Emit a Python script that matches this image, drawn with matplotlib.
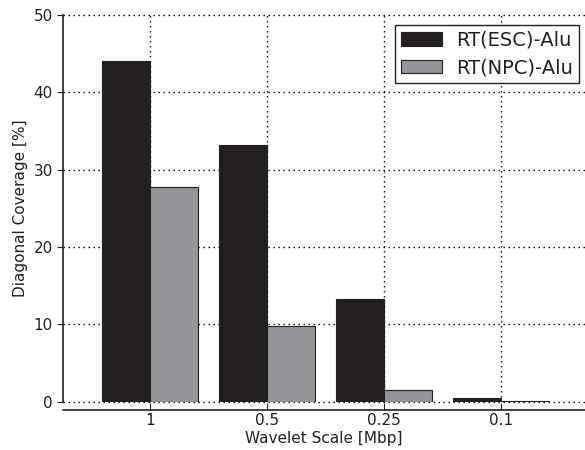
import numpy as np
import matplotlib.pyplot as plt

# Diagonal coverage per wavelet scale
scales = ["1", "0.5", "0.25", "0.1"]
esc_alu = [44.0, 33.2, 13.3, 0.55]
npc_alu = [27.7, 9.8, 1.5, 0.15]

ink = "#231f20"

plt.rcParams["font.family"] = "DejaVu Sans"
plt.rcParams["text.color"] = ink
plt.rcParams["axes.labelcolor"] = ink
plt.rcParams["xtick.color"] = ink
plt.rcParams["ytick.color"] = ink

fig, ax = plt.subplots(figsize=(5.85, 4.5), dpi=100)
fig.subplots_adjust(left=0.108, right=1.0, top=0.967, bottom=0.107)

x = np.arange(len(scales))
width = 0.41
ax.bar(x - width / 2, esc_alu, width, color=ink, edgecolor=ink, linewidth=0.8,
       label="RT(ESC)-Alu", zorder=3)
ax.bar(x + width / 2, npc_alu, width, color="#939598", edgecolor=ink, linewidth=0.8,
       label="RT(NPC)-Alu", zorder=3)

ax.set_xticks(x)
ax.set_xticklabels(scales)
ax.set_yticks([0, 10, 20, 30, 40, 50])
ax.set_xlim(-0.74, 3.72)
ax.set_ylim(0, 50)

ax.grid(True, linestyle=(0, (1, 2.6)), color="black", linewidth=1.0, zorder=0)
for gl in ax.get_xgridlines() + ax.get_ygridlines():
    gl.set_clip_on(False)
ax.set_axisbelow(True)

ax.spines["top"].set_visible(False)
ax.spines["right"].set_visible(False)
ax.spines["bottom"].set_position(("outward", 6))
ax.spines["left"].set_color(ink)
ax.spines["bottom"].set_color(ink)
ax.spines["left"].set_linewidth(1.2)
ax.spines["bottom"].set_linewidth(1.2)

ax.tick_params(axis="x", direction="in", length=5, labelsize=11, pad=2)
ax.tick_params(axis="y", direction="out", length=4, labelsize=11)

ax.set_xlabel("Wavelet Scale [Mbp]", fontsize=11, labelpad=2)
ax.set_ylabel("Diagonal Coverage [%]", fontsize=11)

leg = ax.legend(loc="upper right", fontsize=14, fancybox=False, framealpha=1,
                edgecolor=ink, borderpad=0.3, handlelength=2.1, handleheight=0.7,
                labelspacing=0.45, handletextpad=0.75, borderaxespad=0,
                bbox_to_anchor=(0.9885, 0.974))
leg.get_frame().set_linewidth(1.0)

fig.savefig("out.png")
